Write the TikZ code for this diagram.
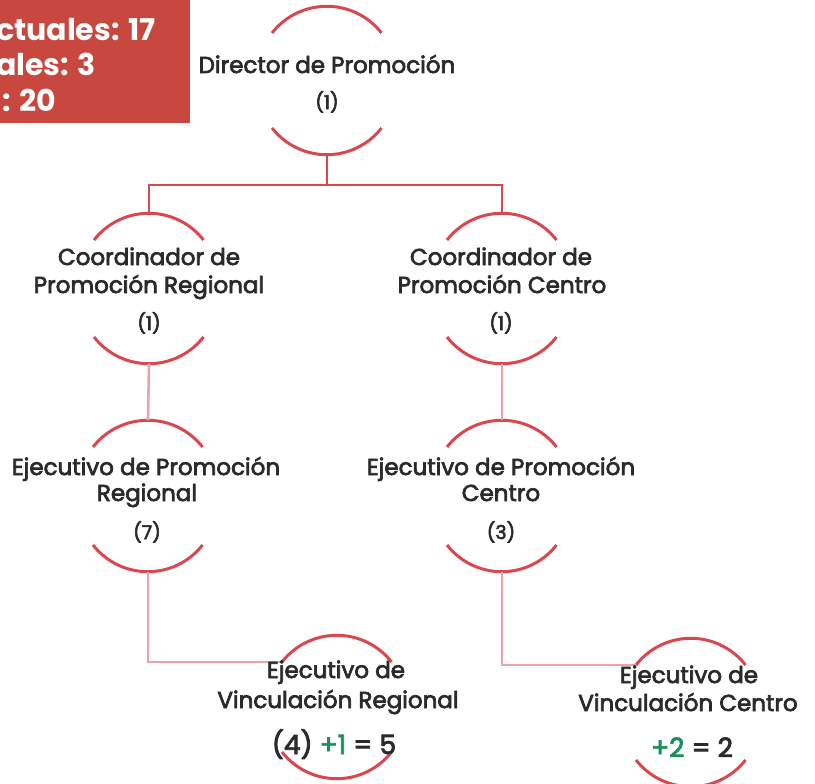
\documentclass[tikz,border=0pt]{standalone}
\usepackage{fontspec}
\setmainfont{Poppins}
\newfontfamily\nodefont{Poppins}[FakeBold=3]
\definecolor{arcred}{HTML}{D9474F}
\definecolor{linkpink}{HTML}{EBA3A8}
\definecolor{boxred}{HTML}{C8483F}
\definecolor{txtgray}{HTML}{2A2A2A}
\definecolor{plusgreen}{HTML}{1A8F5E}
\newcommand\toparcat[2]{\draw[arcline] (#1-55,-#2) arc[start angle=142,end angle=38,radius=69.5];}
\newcommand\botarcat[2]{\draw[arcline] (#1-55,-#2) arc[start angle=218,end angle=322,radius=69.5];}
\begin{document}
\begin{tikzpicture}[x=1pt,y=1pt,
  lbl/.style={anchor=base, inner sep=0, text=txtgray, font=\nodefont\fontsize{23}{26}\selectfont},
  cnt/.style={anchor=base, inner sep=0, text=txtgray, font=\nodefont\fontsize{19}{22}\selectfont},
  bigcnt/.style={anchor=base, inner sep=0, text=txtgray, font=\nodefont\fontsize{26.5}{30}\selectfont},
  arcline/.style={draw=arcred, line width=3pt},
  mainlink/.style={draw=arcred, line width=2.6pt},
  sublink/.style={draw=linkpink, line width=2.6pt},
  boxtxt/.style={anchor=base west, inner sep=0, text=white, font=\fontsize{30}{34}\selectfont\bfseries}]
\useasboundingbox (0,0) rectangle (815,-784);
\clip (0,0) rectangle (815,-784);
\fill[white] (0,0) rectangle (815,-784);

% summary box
\fill[boxred] (-5,5) rectangle (190,-123);
\node[boxtxt] (sum1) at (-4,-41) {ctuales: 17};
\node[boxtxt] (sum2) at (-4,-76) {ales: 3};
\node[boxtxt] (sum3) at (2,-111) {: 20};

% arcs
\toparcat{327}{33}\botarcat{327}{128}
\toparcat{149}{240}\botarcat{149}{337}
\toparcat{502}{240}\botarcat{502}{337}
\toparcat{148}{447}\botarcat{148}{545}
\toparcat{502}{447}\botarcat{502}{545}
\toparcat{337}{662}\botarcat{337}{752}
\toparcat{691}{665}\botarcat{691}{760}

% connection points
\coordinate (dirBot) at (327,-154.7);
\coordinate (split) at (327,-185);
\coordinate (crTop) at (149,-213.3);
\coordinate (crBot) at (149,-363.7);
\coordinate (ccTop) at (502,-213.3);
\coordinate (ccBot) at (502,-363.7);
\coordinate (erTop) at (148,-420.3);
\coordinate (erBot) at (148,-571.7);
\coordinate (ecTop) at (502,-420.3);
\coordinate (ecBot) at (502,-571.7);
\coordinate (vrLeft) at (282,-662);
\coordinate (vcLeft) at (636,-665);

% connectors
\draw[mainlink] (dirBot) -- (split);
\draw[mainlink] (split) -| (crTop);
\draw[mainlink] (split) -| (ccTop);
\draw[sublink] (crBot) -- (erTop);
\draw[sublink] (ccBot) -- (ecTop);
\draw[sublink] (erBot) |- (vrLeft);
\draw[sublink] (ecBot) |- (vcLeft);

% texts
\node[lbl] (dir) at (327,-73) {Director de Promoción};
\node[cnt] (dirN) at (327,-109) {(1)};

\node[lbl] (cr1) at (149,-265) {Coordinador de};
\node[lbl] (cr2) at (149,-293) {Promoción Regional};
\node[cnt] (crN) at (149,-330) {(1)};

\node[lbl] (cc1) at (501,-265) {Coordinador de};
\node[lbl] (cc2) at (502,-293) {Promoción Centro};
\node[cnt] (ccN) at (501,-330) {(1)};

\node[lbl] (er1) at (146,-475) {Ejecutivo de Promoción};
\node[lbl] (er2) at (147,-501) {Regional};
\node[cnt] (erN) at (147,-539) {(7)};

\node[lbl] (ec1) at (501,-475) {Ejecutivo de Promoción};
\node[lbl] (ec2) at (501,-501) {Centro};
\node[cnt] (ecN) at (501,-539) {(3)};

\node[lbl] (vr1) at (336,-678) {Ejecutivo de};
\node[lbl] (vr2) at (338,-708) {Vinculación Regional};
\node[bigcnt] (vrN) at (334,-754) {(4) \textcolor{plusgreen}{+1} = 5};

\node[lbl] (vc1) at (689,-683) {Ejecutivo de};
\node[lbl] (vc2) at (688,-711) {Vinculación Centro};
\node[bigcnt] (vcN) at (692,-757) {\textcolor{plusgreen}{+2} = 2};
\end{tikzpicture}
\end{document}
